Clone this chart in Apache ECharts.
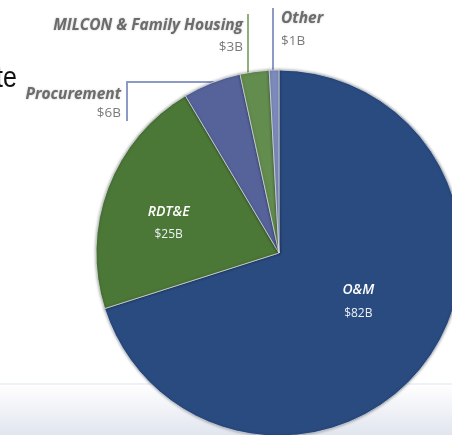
<!DOCTYPE html>
<html>
<head>
<meta charset="utf-8">
<style>
  html, body { margin: 0; padding: 0; background: #ffffff; }
  #chart { width: 452px; height: 435px; }
</style>
<script src="https://cdn.jsdelivr.net/npm/echarts@6/dist/echarts.min.js"></script>
</head>
<body>
<div id="chart"></div>
<script>
// DoD budget split by appropriation (billions of dollars)
const categories = ['O&M', 'RDT&E', 'Procurement', 'MILCON & Family Housing', 'Other'];
const values = [82, 25, 6, 3, 1];
const sliceColors = ['#2A4B80', '#4B7737', '#56639A', '#638C4F', '#7C8BBC'];
const leaderColors = [null, null, '#8D99C7', '#8FB07B', '#8D99C7'];

// pie geometry
const CX = 279, CY = 253, R = 183;

// where a horizontal line at height y meets the left part of the rim
function rimXAt(y) { return CX - Math.sqrt(R * R - (CY - y) * (CY - y)); }
// where a vertical line at x meets the upper part of the rim
function rimYAt(x) { return CY - Math.sqrt(R * R - (CX - x) * (CX - x)); }

// label placement for each slice
const labelPlacement = [
  { dx: 3, dy: -7 },
  { dx: -22, dy: 4 },
  { x: 121, y: 85, align: 'right', lh: 19, line: [[rimXAt(82), 82], [127, 82], [127, 121]] },
  { x: 243, y: 15.5, align: 'right', lh: 21, line: [[248, rimYAt(248) + 1], [248, 14], [248, 14]] },
  { x: 281, y: 8, align: 'left', lh: 22, line: [[273, rimYAt(273) + 1], [273, 8], [273, 8]] }
];

const FONT = 'Open Sans';

const chart = echarts.init(document.getElementById('chart'), null, { renderer: 'canvas' });

const insideLabel = {
  show: true,
  position: 'inside',
  formatter: p => '{n|' + p.name + '}\n{v|$' + p.value + 'B}',
  rich: {
    n: { color: '#ffffff', fontFamily: FONT, fontStyle: 'italic', fontWeight: 600, fontSize: 14, lineHeight: 23, align: 'center' },
    v: { color: '#eef0f4', fontFamily: FONT, fontSize: 12, lineHeight: 23, align: 'center' }
  }
};

function outsideLabel(align, lh) {
  return {
    show: true,
    position: 'outside',
    formatter: p => '{n|' + p.name + '}\n{v|$' + p.value + 'B}',
    rich: {
      n: { color: '#6c6c6c', fontFamily: FONT, fontStyle: 'italic', fontWeight: 'bold', fontSize: 15.5, lineHeight: lh, align: align,
           textShadowColor: 'rgba(0,0,0,0.25)', textShadowBlur: 2 },
      v: { color: '#7a7a7a', fontFamily: FONT, fontSize: 13.5, lineHeight: lh, align: align }
    }
  };
}

const pieData = categories.map((name, i) => {
  const item = {
    name: name,
    value: values[i],
    itemStyle: { color: sliceColors[i] }
  };
  if (i < 2) {
    item.label = insideLabel;
    item.labelLine = { show: false };
  } else {
    item.label = outsideLabel(labelPlacement[i].align, labelPlacement[i].lh);
    item.labelLine = { show: true, lineStyle: { color: leaderColors[i], width: 2 } };
  }
  return item;
});

chart.setOption({
  animation: false,
  backgroundColor: '#ffffff',
  graphic: [
    {
      type: 'rect', z: -10, silent: true,
      shape: { x: 0, y: 384, width: 452, height: 51 },
      style: {
        fill: new echarts.graphic.LinearGradient(0, 0, 0, 1, [
          { offset: 0, color: '#ffffff' },
          { offset: 1, color: '#e1e5ee' }
        ])
      }
    },
    {
      type: 'line', z: -9, silent: true,
      shape: { x1: 0, y1: 384, x2: 452, y2: 384 },
      style: { stroke: '#d9e6ef', lineWidth: 1 }
    },
    {
      type: 'text', z: 5, silent: true,
      x: -4, y: 93, scaleY: 1.15,
      style: { text: 'te', fontFamily: 'Liberation Sans', fontSize: 25, fill: '#111111', textVerticalAlign: 'bottom' }
    }
  ],
  series: [{
    type: 'pie',
    center: [CX, CY],
    radius: [0, R],
    startAngle: 90,
    clockwise: true,
    avoidLabelOverlap: false,
    itemStyle: {
      borderColor: 'rgba(225,228,235,0.9)',
      borderWidth: 0.8,
      shadowColor: 'rgba(0,0,0,0.4)',
      shadowBlur: 3
    },
    emphasis: { disabled: true },
    data: pieData,
    labelLayout: function (params) {
      const p = labelPlacement[params.dataIndex];
      if (p.line) {
        return {
          x: p.x, y: p.y,
          align: p.align, verticalAlign: 'top',
          labelLinePoints: p.line
        };
      }
      return { dx: p.dx, dy: p.dy };
    }
  }]
});
</script>
</body>
</html>
